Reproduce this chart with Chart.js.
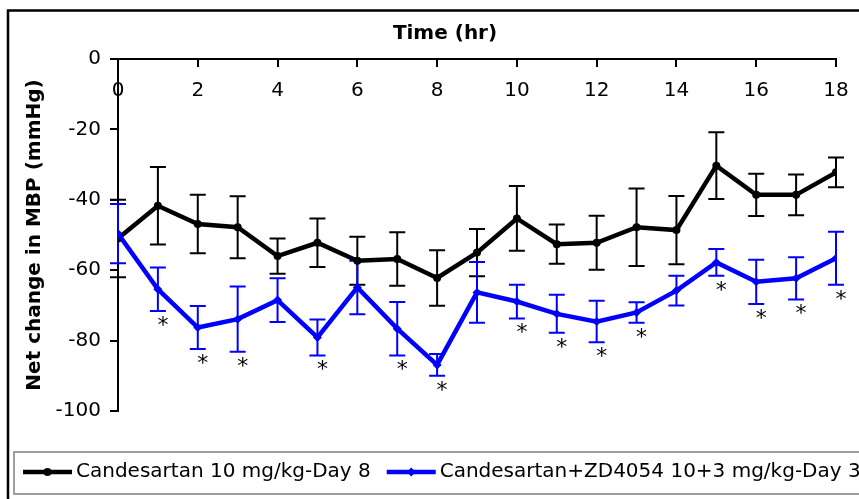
<!DOCTYPE html>
<html>
<head>
<meta charset="utf-8">
<script src="https://cdn.jsdelivr.net/npm/chart.js@4.4.1/dist/chart.umd.min.js"></script>
<style>
  html, body { margin: 0; padding: 0; background: #fff; }
  #wrap { width: 859px; height: 499px; }
</style>
</head>
<body>
<div id="wrap"><canvas id="mbpChart"></canvas></div>
<script>
// hours after dosing
const hours = [0, 1, 2, 3, 4, 5, 6, 7, 8, 9, 10, 11, 12, 13, 14, 15, 16, 17, 18];

// Candesartan 10 mg/kg - Day 8
const candMean = [-51, -41.7, -46.9, -47.8, -56, -52.2, -57.3, -56.8, -62.2, -55, -45.3, -52.6, -52.2, -47.8, -48.6, -30.3, -38.6, -38.6, -32.2];
const candErr = [11, 11, 8.3, 8.8, 5, 6.9, 6.8, 7.6, 7.9, 6.7, 9.2, 5.6, 7.7, 11, 9.7, 9.5, 6, 5.8, 4.2];

// Candesartan + ZD4054 10+3 mg/kg - Day 3
const comboMean = [-49.6, -65.4, -76.3, -73.9, -68.5, -79.1, -64.9, -76.6, -86.9, -66.3, -68.9, -72.4, -74.6, -72, -65.8, -57.8, -63.3, -62.3, -56.6];
const comboErr = [8.4, 6.2, 6.1, 9.3, 6.2, 5.1, 7.6, 7.6, 3.1, 8.6, 4.8, 5.4, 5.9, 2.9, 4.2, 3.8, 6.3, 6, 7.5];

// significance markers under the combo series
const starFlags = [0, 1, 1, 1, 0, 1, 0, 1, 1, 0, 1, 1, 1, 1, 0, 1, 1, 1, 1];

const seriesNames = ["Candesartan 10 mg/kg-Day 8", "Candesartan+ZD4054 10+3 mg/kg-Day 3"];
const xMin = 0, xMax = 18, xStep = 2;
const yMin = -100, yMax = 0, yStep = 20;

const FONT = "'DejaVu Sans', 'Liberation Sans', Arial, sans-serif";
Chart.defaults.font.family = FONT;
Chart.defaults.font.size = 20;
Chart.defaults.color = "#000";

const toPoints = (ys) => hours.map((h, i) => ({ x: h, y: ys[i] }));

// vertical error bars with caps, drawn under the lines
const errorBars = {
  id: "errorBars",
  beforeDatasetsDraw(chart) {
    const ctx = chart.ctx;
    const xs = chart.scales.x;
    const ys = chart.scales.y;
    ctx.save();
    chart.data.datasets.forEach((ds) => {
      ctx.strokeStyle = ds.borderColor;
      ctx.lineWidth = 2;
      ds.data.forEach((p, i) => {
        const e = ds.errors[i];
        const px = xs.getPixelForValue(p.x);
        const top = ys.getPixelForValue(p.y + e);
        const bot = ys.getPixelForValue(p.y - e);
        ctx.beginPath();
        ctx.moveTo(px, top);
        ctx.lineTo(px, bot);
        ctx.moveTo(px - 8, top);
        ctx.lineTo(px + 8, top);
        ctx.moveTo(px - 8, bot);
        ctx.lineTo(px + 8, bot);
        ctx.stroke();
      });
    });
    ctx.restore();
  },
  afterDatasetsDraw(chart) {
    const ctx = chart.ctx;
    const xs = chart.scales.x;
    const ys = chart.scales.y;
    ctx.save();
    ctx.fillStyle = "#000";
    ctx.font = "22px " + FONT;
    ctx.textAlign = "center";
    ctx.textBaseline = "alphabetic";
    hours.forEach((h, i) => {
      if (!starFlags[i]) return;
      const px = xs.getPixelForValue(h) + 5;
      const py = ys.getPixelForValue(comboMean[i] - comboErr[i]) + 21;
      ctx.fillText("*", px, py);
    });
    ctx.restore();
  }
};

// outer frame and boxed legend like the original figure
const frameLegend = {
  id: "frameLegend",
  afterDraw(chart) {
    const ctx = chart.ctx;
    ctx.save();
    ctx.strokeStyle = "#000";
    ctx.lineWidth = 2.5;
    ctx.strokeRect(8, 10.5, 900, 600);

    ctx.strokeStyle = "#808080";
    ctx.lineWidth = 1.5;
    ctx.strokeRect(14, 452, 900, 42);

    const cy = 472;
    ctx.font = "20px " + FONT;
    ctx.textBaseline = "middle";
    ctx.textAlign = "left";
    let x = 23;
    chart.data.datasets.forEach((ds) => {
      ctx.strokeStyle = ds.borderColor;
      ctx.lineWidth = 4.5;
      ctx.beginPath();
      ctx.moveTo(x, cy);
      ctx.lineTo(x + 49, cy);
      ctx.stroke();
      ctx.fillStyle = ds.borderColor;
      ctx.beginPath();
      if (ds.pointStyle === "rectRot") {
        ctx.moveTo(x + 24.5, cy - 4.5);
        ctx.lineTo(x + 29, cy);
        ctx.lineTo(x + 24.5, cy + 4.5);
        ctx.lineTo(x + 20, cy);
        ctx.closePath();
      } else {
        ctx.arc(x + 24.5, cy, 4, 0, Math.PI * 2);
      }
      ctx.fill();
      ctx.fillStyle = "#000";
      ctx.fillText(ds.label, x + 53, cy);
      x += 53 + ctx.measureText(ds.label).width + 16;
    });
    ctx.restore();
  }
};

const ctx = document.getElementById("mbpChart");
new Chart(ctx, {
  type: "line",
  data: {
    datasets: [
      {
        label: seriesNames[0],
        data: toPoints(candMean),
        errors: candErr,
        borderColor: "#000000",
        backgroundColor: "#000000",
        borderWidth: 4.5,
        pointStyle: "circle",
        pointRadius: 4,
        pointBorderWidth: 0,
        tension: 0,
        order: 1,
      },
      {
        label: seriesNames[1],
        data: toPoints(comboMean),
        errors: comboErr,
        borderColor: "#0000FF",
        backgroundColor: "#0000FF",
        borderWidth: 4.5,
        pointStyle: "rectRot",
        pointRadius: 4.5,
        pointBorderWidth: 0,
        tension: 0,
        order: 0,
      },
    ],
  },
  options: {
    responsive: true,
    maintainAspectRatio: false,
    animation: false,
    layout: { padding: { top: 0, left: 54, right: 23, bottom: 88 } },
    plugins: {
      legend: { display: false },
      tooltip: { enabled: false },
      title: {
        display: true,
        text: "Time (hr)",
        font: { size: 20, weight: "bold" },
        padding: { top: 22, bottom: 13 },
        color: "#000",
      },
    },
    scales: {
      x: {
        type: "linear",
        position: { y: 0 },
        min: xMin,
        max: xMax,
        ticks: { stepSize: xStep, padding: 13, font: { size: 20 }, color: "#000" },
        grid: { drawOnChartArea: false, drawTicks: true, tickLength: 7, color: "#000", lineWidth: 2 },
        border: { color: "#000", width: 2 },
        afterFit(scale) {
          scale.paddingLeft = 0;
          scale.paddingRight = 0;
        },
      },
      y: {
        min: yMin,
        max: yMax,
        ticks: { stepSize: yStep, padding: 9, font: { size: 20 }, color: "#000" },
        grid: { drawOnChartArea: false, drawTicks: true, tickLength: 8, color: "#000", lineWidth: 2 },
        border: { color: "#000", width: 2 },
        title: {
          display: true,
          text: "Net change in MBP (mmHg)",
          font: { size: 20, weight: "bold" },
          padding: { top: -31, bottom: 0 },
          color: "#000",
        },
        afterFit(scale) {
          scale.width = 64;
        },
      },
    },
  },
  plugins: [errorBars, frameLegend],
});
</script>
</body>
</html>
